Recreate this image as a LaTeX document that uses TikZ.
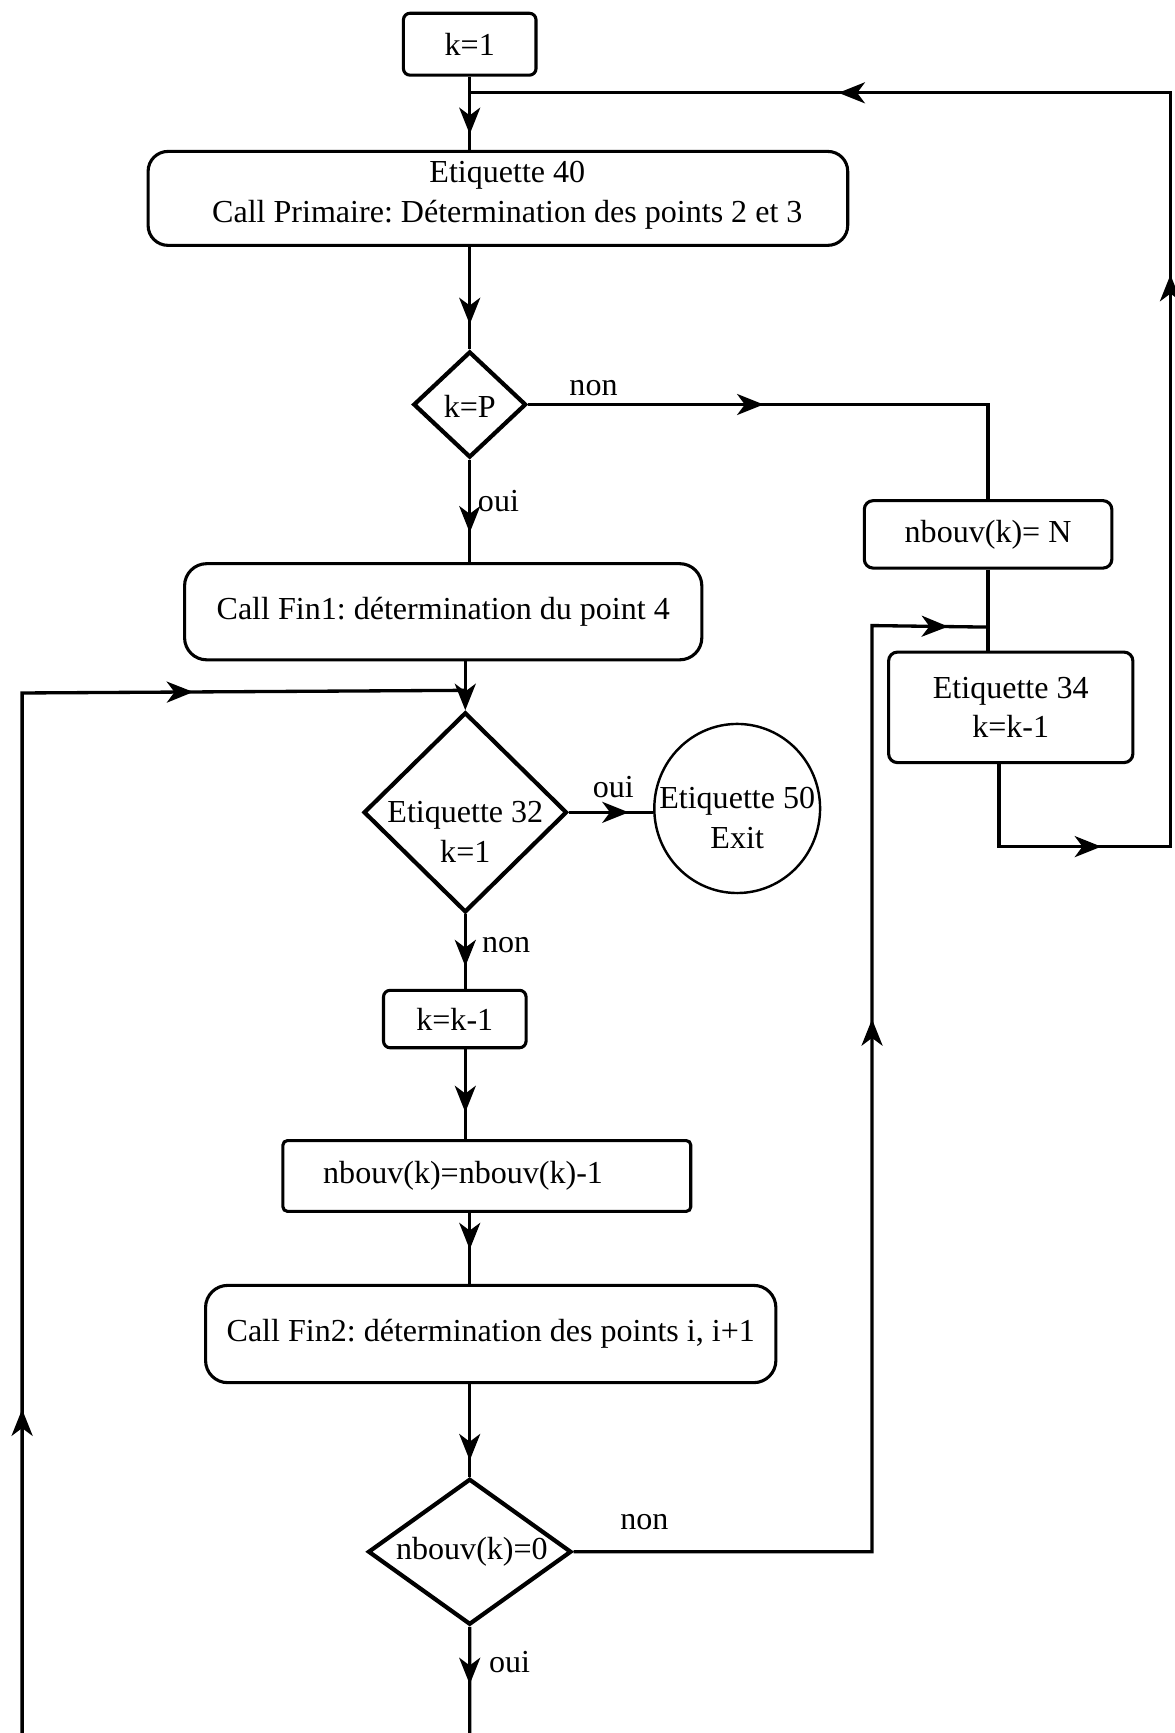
\documentclass[tikz,border=0pt]{standalone}
\usepackage{fontspec}
\setmainfont{Liberation Serif}
\usetikzlibrary{shapes.geometric,arrows.meta,decorations.markings}
\frenchspacing
\begin{document}
\begin{tikzpicture}[x=1pt,y=-1pt,
  every node/.style={font=\fontsize{29}{36}\selectfont},
  box/.style={draw, line width=2.8pt, rounded corners=#1, inner sep=0pt, align=center},
  box/.default=8pt,
  dia/.style={draw, diamond, line width=3.8pt, inner sep=0pt},
  txt/.style={align=center, inner sep=0pt},
  conn/.style={line width=3pt},
  am/.style={postaction={decorate, decoration={markings, mark=at position #1 with {\arrow{Stealth[length=24pt,width=19pt,inset=7pt]}}}}},
  endarr/.style={-{Stealth[length=24pt,width=19pt,inset=7pt]}}
]
\fill[white] (0,0) rectangle (1063,1568);
\useasboundingbox (0,0) rectangle (1063,1568);
\clip (0,0) rectangle (1063,1568);

% nodes
\node[box=6pt, minimum width=120pt, minimum height=56pt] (k1) at (425,40) {k=1};
\node[box=18pt, minimum width=633pt, minimum height=85pt] (e40) at (450.5,179.5) {};
\node[txt] (e40t) at (459,177) {Etiquette 40\\Call Primaire: Détermination des points 2 et 3};
\node[dia, minimum width=102pt, minimum height=96pt] (kP) at (425,366) {};
\node[txt] (kPt) at (425,368) {k=P};
\node[box=8pt, minimum width=224pt, minimum height=61pt] (nbN) at (894,483.5) {nbouv(k)= N};
\node[box=8pt, minimum width=221pt, minimum height=100pt] (e34) at (914.5,640) {Etiquette 34\\k=k-1};
\node[box=20pt, minimum width=468pt, minimum height=87pt] (fin1) at (401,553.5) {Call Fin1: détermination du point 4};
\node[dia, minimum width=184pt, minimum height=181pt] (e32) at (421,735) {};
\node[txt] (e32t) at (421,753) {Etiquette 32\\k=1};
\node[draw, ellipse, line width=2.2pt, minimum width=150pt, minimum height=153pt, inner sep=0pt] (ell) at (667,731.5) {};
\node[txt] (ellt) at (667,740) {Etiquette 50\\Exit};
\node[box=6pt, minimum width=129pt, minimum height=52pt] (kk1) at (411.5,922) {k=k-1};
\node[box=4pt, minimum width=369pt, minimum height=64pt] (nbm) at (440.5,1064) {};
\node[txt] (nbmt) at (419,1064) {nbouv(k)=nbouv(k)-1};
\node[box=20pt, minimum width=516pt, minimum height=88pt] (fin2) at (444,1207) {Call Fin2: détermination des points i, i+1};
\node[dia, minimum width=184pt, minimum height=132pt] (nb0) at (425,1404) {};
\node[txt] (nb0t) at (427,1404) {nbouv(k)=0};

% junction coordinates
\coordinate (j1) at (425,84);
\path (nbN.south) ++(0,52) coordinate (j2);
\path (e32.north) ++(0,-18) coordinate (j3);

% connectors
\draw[conn, am=52pt] (k1.south) -- (k1.south |- e40.north);
\draw[conn, am=167pt, am=747pt, am=1212pt] ([xshift=-10.5pt]e34.south) -- (904,766) -- (1059,766) -- (1059,84) -- (j1);
\draw[conn, am=70pt] (kP.north |- e40.south) -- (kP.north);
\draw[conn, am=213pt] (kP.east) -| (nbN.north);
\draw[conn] (nbN.south) -- (nbN.south |- e34.north);
\draw[conn, am=752pt, am=1177pt] (nb0.east) -- (789,1404) -- (789,566) -- (j2);
\draw[conn, am=66pt] (kP.south) -- (kP.south |- fin1.north);
\draw[conn, endarr] (e32.north |- fin1.south) -- (e32.north);
\draw[conn, am=52pt, am=858pt, am=1661pt] (nb0.south) -- (425,1600) -- (20,1600) -- (20,627) -- (j3);
\draw[conn, am=54pt] (e32.east) -- (e32.east -| ell.west);
\draw[conn, am=47pt] (e32.south) -- (e32.south |- kk1.north);
\draw[conn, am=57pt] (kk1.south -| e32.south) -- (e32.south |- nbm.north);
\draw[conn, am=33pt] (nbm.south -| nb0.north) -- (fin2.north -| nb0.north);
\draw[conn, am=69pt] (fin2.south -| nb0.north) -- (nb0.north);

% labels
\node (l1) at (537,351) {non};
\node (l2) at (451,453) {oui};
\node (l3) at (555,712) {oui};
\node (l4) at (458,855) {non};
\node (l5) at (583,1377) {non};
\node (l6) at (461,1504) {oui};
\end{tikzpicture}
\end{document}
